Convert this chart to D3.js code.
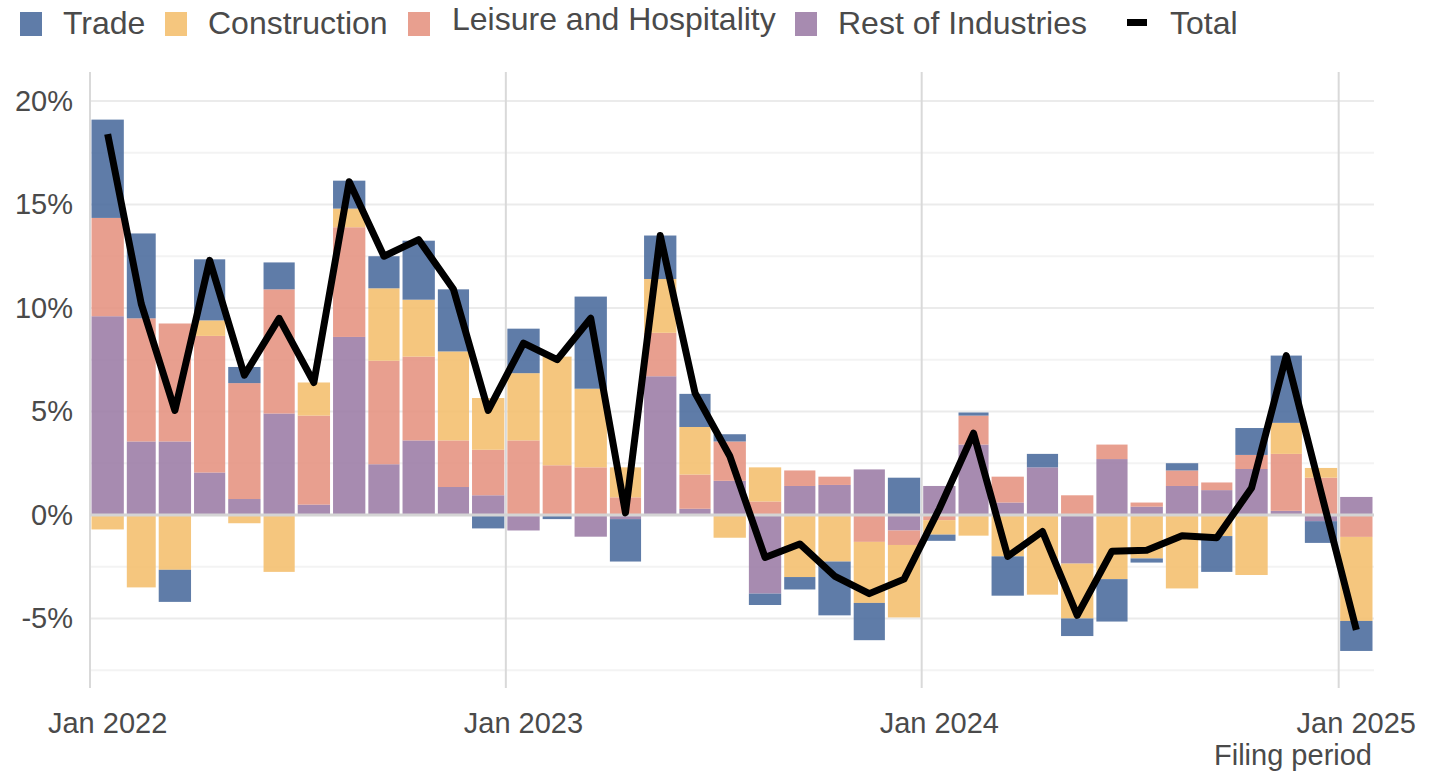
<!DOCTYPE html>
<html><head><meta charset="utf-8">
<script src="https://cdn.jsdelivr.net/npm/d3@7"></script>
<style>body{margin:0;background:#fff}svg{display:block;font-family:"Liberation Sans",Arial,sans-serif}</style>
</head><body><svg id="chart" width="1444" height="772"></svg>
<script>
const startMonth = "2022-01";
const trade = [4.75,4.1,-1.55,2.95,0.78,1.3,0,1.35,1.55,2.85,3.0,-0.65,2.15,-0.2,4.45,-2.05,2.1,1.6,0.35,-0.55,-0.6,-2.6,-1.8,1.8,-0.3,0.15,-1.9,0.65,-0.85,-2.05,-0.2,0.35,-1.73,1.3,3.25,-1.05,-1.45];
const construction = [-0.7,-3.5,-2.65,0.75,-0.4,-2.75,1.6,0.9,3.5,2.75,4.3,2.5,3.25,5.25,3.8,1.45,2.6,2.3,-1.1,1.65,-3.0,-2.25,-2.95,-3.5,-0.7,-1.0,-2.0,-3.85,-2.65,-3.1,-2.1,-3.55,-1.02,-2.9,1.5,0.47,-4.06];
const leisure = [4.75,5.95,5.7,6.6,5.6,6.0,4.3,5.3,5.0,4.05,2.25,2.2,3.6,2.4,2.3,0.85,2.1,1.65,1.9,0.65,0.75,0.4,-1.3,-0.7,-0.25,1.4,1.25,0,0.95,0.7,0.2,0.75,0.37,0.68,2.75,1.8,-1.06];
const rest = [9.6,3.55,3.55,2.05,0.77,4.9,0.5,8.6,2.45,3.6,1.35,0.95,-0.75,0,-1.05,-0.2,6.7,0.3,1.65,-3.8,1.4,1.45,2.2,-0.75,1.4,3.4,0.6,2.3,-2.35,2.7,0.4,1.4,1.2,2.22,0.2,-0.3,0.87];
const total = [18.4,10.2,5.05,12.3,6.75,9.5,6.4,16.1,12.5,13.3,10.9,5.05,8.3,7.5,9.5,0.1,13.5,5.9,2.85,-2.05,-1.4,-2.95,-3.8,-3.1,0.3,3.95,-2.0,-0.8,-4.85,-1.75,-1.7,-1.0,-1.1,1.3,7.7,1.1,-5.55];
const seriesNames = ["Trade","Construction","Leisure and Hospitality","Rest of Industries"];
const stackOrder = ["Rest of Industries","Leisure and Hospitality","Construction","Trade"];
const colors = {"Trade":"#4E6E9E","Construction":"#F4C070","Leisure and Hospitality":"#E59583","Rest of Industries":"#9D7EA7"};
const yTicks = [-5,0,5,10,15,20];
const yMinor = [-7.5,-2.5,2.5,7.5,12.5,17.5];
const xTickLabels = ["Jan 2022","Jan 2023","Jan 2024","Jan 2025"];
const xTitle = "Filing period";

(function(){
const parse = d3.timeParse("%Y-%m");
const t0 = parse(startMonth);
const rows = trade.map((v,i)=>{
  const d = d3.timeMonth.offset(t0,i);
  return {date:d, next:d3.timeMonth.offset(d,1), "Trade":v, "Construction":construction[i],
    "Leisure and Hospitality":leisure[i], "Rest of Industries":rest[i], total:total[i]};
});

const svg = d3.select("#chart");
const pL=90, pR=1374, pT=72, pB=688;
const x = d3.scaleTime().domain([t0, d3.timeMonth.offset(t0, rows.length)]).range([pL,pR]);
const y = d3.scaleLinear().domain([-8.36,21.4]).range([pB,pT]);

const g = svg.append("g");
g.selectAll(".minor").data(yMinor).join("line")
  .attr("x1",pL).attr("x2",pR).attr("y1",d=>y(d)).attr("y2",d=>y(d))
  .attr("stroke","#f3f3f3").attr("stroke-width",2);
g.selectAll(".major").data(yTicks.filter(d=>d!==0)).join("line")
  .attr("x1",pL).attr("x2",pR).attr("y1",d=>y(d)).attr("y2",d=>y(d))
  .attr("stroke","#ebebeb").attr("stroke-width",2);
const yearTicks = xTickLabels.map((s,i)=>d3.timeYear.offset(t0,i));
g.selectAll(".vline").data(yearTicks).join("line")
  .attr("x1",d=>x(d)).attr("x2",d=>x(d)).attr("y1",pT).attr("y2",pB)
  .attr("stroke","#d9d9d9").attr("stroke-width",2);

const stack = d3.stack().keys(stackOrder).offset(d3.stackOffsetDiverging);
const layers = stack(rows);
const bars = svg.append("g");
layers.forEach(layer=>{
  bars.append("g").attr("fill",colors[layer.key]).attr("fill-opacity",0.9)
    .selectAll("rect").data(layer).join("rect")
    .attr("x",d=>x(d.data.date)+1.5)
    .attr("width",d=>x(d.data.next)-x(d.data.date)-3)
    .attr("y",d=>y(Math.max(d[0],d[1])))
    .attr("height",d=>Math.abs(y(d[0])-y(d[1])));
});
svg.append("line").attr("x1",pL).attr("x2",pR).attr("y1",y(0)).attr("y2",y(0))
  .attr("stroke","#d4d4d4").attr("stroke-width",3);

const mid = d=>(x(d.date)+x(d.next))/2;
svg.append("path").datum(rows)
  .attr("d",d3.line().x(mid).y(d=>y(d.total)))
  .attr("fill","none").attr("stroke","#000").attr("stroke-width",7)
  .attr("stroke-linejoin","round").attr("stroke-linecap","butt");

const yAxis = d3.axisLeft(y).tickValues(yTicks).tickFormat(d=>d+"%").tickSize(0).tickPadding(17);
const ya = svg.append("g").attr("transform",`translate(${pL},0)`).call(yAxis);
ya.select(".domain").remove();
ya.selectAll("text").attr("font-size",29).attr("fill","#4a4a4a").attr("font-family","Liberation Sans, Arial, sans-serif");

const xAxis = d3.axisBottom(x).tickValues(yearTicks.map(d=>d3.timeDay.offset(d,15.5)))
  .tickFormat((d,i)=>xTickLabels[i]).tickSize(0).tickPadding(24);
const xa = svg.append("g").attr("transform",`translate(0,${pB})`).call(xAxis);
xa.select(".domain").remove();
xa.selectAll("text").attr("font-size",29).attr("fill","#4a4a4a").attr("font-family","Liberation Sans, Arial, sans-serif");

svg.append("text").attr("x",1372).attr("y",765).attr("text-anchor","end")
  .attr("font-size",29).attr("fill","#4a4a4a").text(xTitle);

const legendItems = [
  {name:"Trade", mx:20, tx:63, ty:34},
  {name:"Construction", mx:165, tx:208, ty:34},
  {name:"Leisure and Hospitality", mx:408, tx:452, ty:30},
  {name:"Rest of Industries", mx:795, tx:838, ty:34}
];
const lg = svg.append("g");
legendItems.forEach(it=>{
  lg.append("rect").attr("x",it.mx).attr("y",12).attr("width",22).attr("height",24)
    .attr("fill",colors[it.name]).attr("fill-opacity",0.9);
  lg.append("text").attr("x",it.tx).attr("y",it.ty).attr("font-size",32).attr("fill","#4a4a4a").text(it.name);
});
lg.append("rect").attr("x",1127).attr("y",19).attr("width",20).attr("height",7).attr("fill","#000");
lg.append("text").attr("x",1170).attr("y",34).attr("font-size",32).attr("fill","#4a4a4a").text("Total");
})();
</script></body></html>
